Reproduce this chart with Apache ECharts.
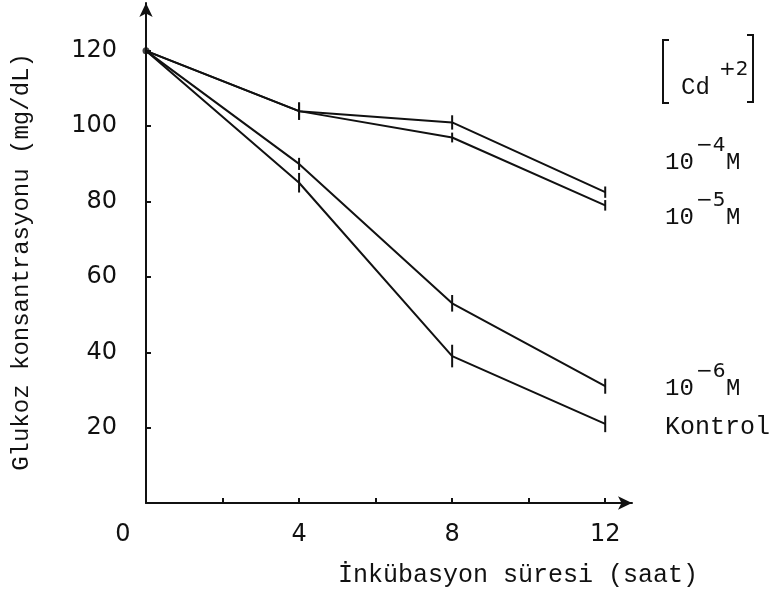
<!DOCTYPE html>
<html>
<head>
<meta charset="utf-8">
<script src="https://cdn.jsdelivr.net/npm/echarts@6/dist/echarts.min.js"></script>
<style>
html, body { margin: 0; padding: 0; background: #fff; }
#main { width: 780px; height: 598px; }
</style>
</head>
<body>
<div id="main"></div>
<script>
// saat
var hours = [0, 4, 8, 12];
// glukoz (mg/dL) for each Cd+2 concentration
var cd4 = [120, 104, 101, 82.5];
var cd5 = [120, 104, 97, 79];
var cd6 = [120, 90, 53, 31];
var kontrol = [120, 85, 39, 21];
// half length of the error bars
var cd4Err = [0, 2.3, 1.9, 1.5];
var cd5Err = [0, 2.3, 1.3, 1.4];
var cd6Err = [0, 1.6, 2.2, 2.0];
var kontrolErr = [0, 2.6, 3.0, 2.2];

var xLabels = [0, 4, 8, 12];
var xTicks = [2, 4, 6, 8, 10, 12];
var yLabels = [20, 40, 60, 80, 100, 120];

var mono = 'Liberation Mono';
var sans = 'DejaVu Sans';

function pairs(vals) {
    return hours.map(function (h, i) { return [h, vals[i]]; });
}

function errPoints() {
    var out = [];
    [[cd4, cd4Err], [cd5, cd5Err], [cd6, cd6Err], [kontrol, kontrolErr]].forEach(function (s) {
        hours.forEach(function (h, i) {
            if (s[1][i] > 0) out.push([h, s[0][i], s[1][i]]);
        });
    });
    return out;
}

function lineSeries(name, vals) {
    return {
        name: name,
        type: 'line',
        data: pairs(vals),
        symbol: 'none',
        animation: false,
        lineStyle: { color: '#111', width: 2 }
    };
}

function txt(x, y, s, family, size) {
    return {
        type: 'text', x: x, y: y,
        style: { text: s, fontFamily: family, fontSize: size, fill: '#111', verticalAlign: 'middle' }
    };
}

// labels on the right: 10^-n M
function conc(exp, y) {
    return [
        txt(665, y, '10', mono, 24),
        txt(696, y - 17, '\u2212' + exp, sans, 20),
        txt(726, y, 'M', mono, 24)
    ];
}

var myChart = echarts.init(document.getElementById('main'));

option = {
    backgroundColor: '#fff',
    animation: false,
    grid: { left: 146, top: 3, right: 148, bottom: 95, containLabel: false, outerBoundsMode: 'none' },
    xAxis: {
        type: 'value',
        min: 0,
        max: 12.7,
        name: 'İnkübasyon süresi (saat)',
        nameLocation: 'middle',
        nameGap: 60,
        nameTextStyle: { fontFamily: mono, fontSize: 25, color: '#111', padding: [0, 0, 0, 258] },
        axisLine: {
            lineStyle: { color: '#111', width: 2 },
            symbol: ['none', 'arrow'],
            symbolSize: [10, 14]
        },
        axisTick: { customValues: xTicks, inside: true, length: 5, lineStyle: { color: '#111', width: 2 } },
        axisLabel: {
            customValues: xLabels,
            margin: 20,
            fontFamily: sans,
            fontSize: 24,
            color: '#111',
            formatter: function (v) { return v === 0 ? '{z|0}' : String(v); },
            rich: { z: { fontFamily: sans, fontSize: 24, color: '#111', padding: [0, 46, 0, 0] } }
        },
        splitLine: { show: false }
    },
    yAxis: {
        type: 'value',
        min: 0,
        max: 132.7,
        name: 'Glukoz konsantrasyonu (mg/dL)',
        nameLocation: 'middle',
        nameGap: 112,
        nameRotate: 90,
        nameTextStyle: { fontFamily: mono, fontSize: 24, color: '#111', padding: [0, 18, 0, 0] },
        axisLine: {
            lineStyle: { color: '#111', width: 2 },
            symbol: ['none', 'arrow'],
            symbolSize: [10, 14]
        },
        axisTick: { customValues: yLabels, inside: true, length: 5, lineStyle: { color: '#111', width: 2 } },
        axisLabel: { customValues: yLabels, margin: 29, fontFamily: sans, fontSize: 24, color: '#111' },
        splitLine: { show: false }
    },
    graphic: [
        { type: 'polyline', shape: { points: [[669, 40], [663, 40], [663, 103], [669, 103]] }, style: { stroke: '#111', lineWidth: 2, fill: null } },
        { type: 'polyline', shape: { points: [[747, 35], [753, 35], [753, 102], [747, 102]] }, style: { stroke: '#111', lineWidth: 2, fill: null } },
        txt(681, 88, 'Cd', mono, 24),
        txt(719, 70, '+2', sans, 20),
        txt(665, 427, 'Kontrol', mono, 25)
    ].concat(conc(4, 163), conc(5, 218), conc(6, 389)),
    series: [
        lineSeries('10-4 M', cd4),
        lineSeries('10-5 M', cd5),
        lineSeries('10-6 M', cd6),
        lineSeries('Kontrol', kontrol),
        {
            type: 'custom',
            data: errPoints(),
            animation: false,
            renderItem: function (params, api) {
                var lo = api.coord([api.value(0), api.value(1) - api.value(2)]);
                var hi = api.coord([api.value(0), api.value(1) + api.value(2)]);
                return {
                    type: 'line',
                    shape: { x1: lo[0], y1: lo[1], x2: hi[0], y2: hi[1] },
                    style: { stroke: '#111', lineWidth: 2 }
                };
            }
        },
        {
            type: 'scatter',
            data: [[hours[0], kontrol[0]]],
            symbolSize: 7,
            itemStyle: { color: '#111' },
            animation: false
        }
    ]
};

myChart.setOption(option);
</script>
</body>
</html>
